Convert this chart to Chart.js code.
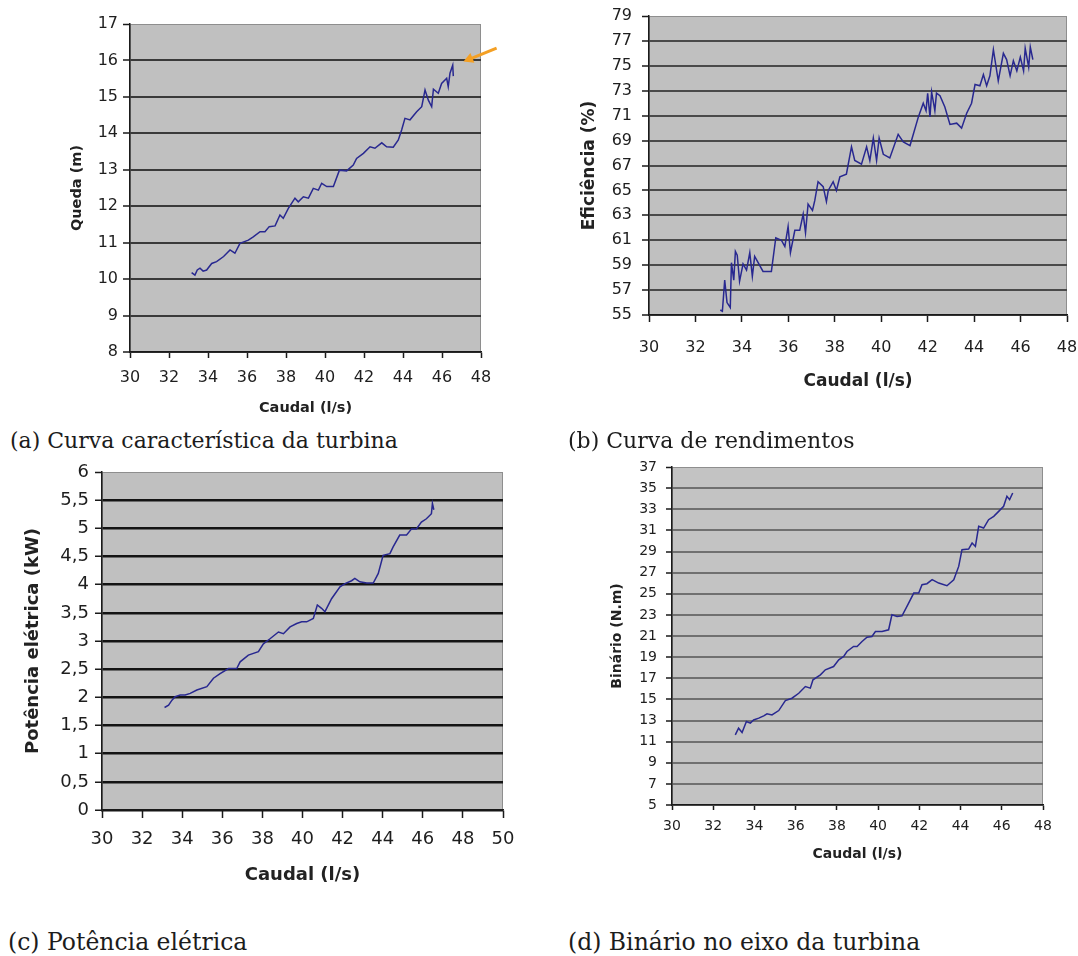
<!DOCTYPE html>
<html>
<head>
<meta charset="utf-8">
<title>Turbina - curvas</title>
<script src="https://cdn.jsdelivr.net/npm/chart.js@4.4.0/dist/chart.umd.min.js"></script>
<style>
	body { margin: 0; background: #fff; }
	#page { position: relative; width: 1078px; height: 956px; overflow: hidden; }
	#page canvas { position: absolute; }
	.caption {
		position: absolute;
		font-family: "DejaVu Serif", serif;
		font-size: 22px;
		line-height: 1;
		color: #1c1c1c;
		white-space: nowrap;
	}
	.caption.big { font-size: 23.5px; }
</style>
</head>
<body>
<div id="page">
	<canvas id="chartA"></canvas>
	<canvas id="chartB"></canvas>
	<canvas id="chartC"></canvas>
	<canvas id="chartD"></canvas>
	<div class="caption" style="left:10px; top:430px;">(a) Curva característica da turbina</div>
	<div class="caption" style="left:568px; top:430px;">(b) Curva de rendimentos</div>
	<div class="caption big" style="left:8px; top:931px;">(c) Potência elétrica</div>
	<div class="caption big" style="left:568px; top:931px;">(d) Binário no eixo da turbina</div>
</div>
<script>
// (a) Queda vs caudal
const caudalQueda = [33.16, 33.33, 33.45, 33.59, 33.75, 33.93, 34.19, 34.44, 34.8, 35.13, 35.38, 35.64, 36.07, 36.32, 36.67, 36.92, 37.14, 37.44, 37.69, 37.86, 38.12, 38.46, 38.63, 38.89, 39.15, 39.4, 39.66, 39.83, 40.09, 40.43, 40.74, 41.11, 41.45, 41.62, 41.97, 42.31, 42.56, 42.91, 43.16, 43.5, 43.76, 43.93, 44.1, 44.36, 44.7, 44.96, 45.13, 45.3, 45.47, 45.56, 45.81, 45.98, 46.24, 46.32, 46.41, 46.55, 46.58];
const queda = [10.18, 10.11, 10.25, 10.3, 10.22, 10.25, 10.43, 10.48, 10.62, 10.8, 10.71, 10.98, 11.07, 11.16, 11.3, 11.3, 11.44, 11.46, 11.76, 11.67, 11.94, 12.22, 12.12, 12.26, 12.22, 12.49, 12.44, 12.63, 12.54, 12.54, 12.99, 12.97, 13.13, 13.31, 13.45, 13.63, 13.59, 13.74, 13.63, 13.62, 13.82, 14.09, 14.41, 14.37, 14.59, 14.73, 15.19, 14.91, 14.73, 15.21, 15.1, 15.37, 15.51, 15.28, 15.65, 15.87, 15.57];

// (b) Eficiência vs caudal
const caudalEfic = [33.07, 33.16, 33.26, 33.36, 33.5, 33.55, 33.65, 33.72, 33.8, 33.9, 34.05, 34.2, 34.34, 34.45, 34.55, 34.7, 34.91, 35.27, 35.46, 35.7, 35.85, 35.99, 36.09, 36.28, 36.49, 36.64, 36.74, 36.85, 37.04, 37.14, 37.28, 37.5, 37.64, 37.72, 37.93, 38.07, 38.22, 38.5, 38.72, 38.86, 39.15, 39.37, 39.51, 39.66, 39.8, 39.91, 40.09, 40.37, 40.73, 40.95, 41.24, 41.6, 41.81, 41.93, 42.0, 42.1, 42.17, 42.31, 42.38, 42.53, 42.74, 42.96, 43.25, 43.46, 43.68, 43.89, 44.04, 44.25, 44.4, 44.54, 44.68, 44.83, 45.04, 45.26, 45.4, 45.55, 45.69, 45.84, 45.99, 46.13, 46.2, 46.35, 46.42, 46.53];
const eficiencia = [55.4, 55.3, 57.8, 56.0, 55.6, 59.2, 57.8, 60.1, 59.8, 57.7, 59.1, 58.6, 60.0, 58.1, 59.7, 59.2, 58.5, 58.5, 61.2, 61.0, 60.5, 62.1, 60.0, 61.8, 61.8, 63.1, 61.6, 63.9, 63.4, 64.2, 65.7, 65.3, 64.1, 65.0, 65.7, 65.0, 66.1, 66.3, 68.5, 67.4, 67.1, 68.5, 67.4, 69.2, 67.4, 69.2, 67.9, 67.6, 69.5, 68.9, 68.6, 70.9, 72.0, 71.4, 72.8, 70.9, 72.9, 71.4, 72.8, 72.6, 71.7, 70.3, 70.4, 70.0, 71.2, 72.0, 73.5, 73.4, 74.3, 73.4, 74.2, 76.3, 73.8, 76.0, 75.5, 74.2, 75.4, 74.6, 75.7, 74.6, 76.4, 74.9, 76.5, 75.5];

// (c) Potência elétrica vs caudal
const caudalPot = [33.12, 33.32, 33.49, 33.65, 33.9, 34.15, 34.4, 34.73, 35.23, 35.56, 35.89, 36.31, 36.72, 36.89, 37.3, 37.8, 38.05, 38.38, 38.8, 39.05, 39.38, 39.71, 39.96, 40.21, 40.54, 40.74, 40.95, 41.12, 41.45, 41.87, 42.12, 42.45, 42.61, 42.86, 43.2, 43.53, 43.78, 44.02, 44.36, 44.52, 44.85, 45.19, 45.44, 45.68, 45.93, 46.18, 46.43, 46.48, 46.55];
const potencia = [1.82, 1.86, 1.95, 2.01, 2.04, 2.04, 2.07, 2.13, 2.19, 2.34, 2.42, 2.51, 2.51, 2.63, 2.75, 2.81, 2.95, 3.04, 3.16, 3.13, 3.25, 3.31, 3.34, 3.34, 3.4, 3.64, 3.58, 3.52, 3.75, 3.96, 4.02, 4.07, 4.11, 4.05, 4.03, 4.03, 4.2, 4.52, 4.55, 4.67, 4.88, 4.88, 4.99, 4.99, 5.11, 5.17, 5.26, 5.44, 5.33];

// (d) Binário vs caudal
const caudalBin = [33.07, 33.23, 33.4, 33.61, 33.8, 33.96, 34.21, 34.45, 34.61, 34.85, 35.18, 35.5, 35.82, 36.15, 36.47, 36.71, 36.84, 37.2, 37.44, 37.84, 38.09, 38.33, 38.49, 38.81, 38.98, 39.22, 39.46, 39.7, 39.87, 40.19, 40.51, 40.67, 40.92, 41.16, 41.4, 41.73, 41.97, 42.13, 42.37, 42.62, 42.94, 43.34, 43.67, 43.91, 44.07, 44.39, 44.56, 44.72, 44.88, 45.12, 45.36, 45.61, 45.85, 46.09, 46.25, 46.38, 46.53];
const binario = [11.64, 12.27, 11.86, 12.9, 12.75, 13.05, 13.22, 13.44, 13.63, 13.53, 13.94, 14.89, 15.11, 15.58, 16.21, 16.06, 16.85, 17.32, 17.8, 18.11, 18.74, 19.06, 19.53, 20.01, 20.01, 20.48, 20.89, 20.95, 21.43, 21.43, 21.59, 23.01, 22.85, 22.91, 23.8, 25.06, 25.06, 25.85, 25.95, 26.33, 26.01, 25.76, 26.33, 27.59, 29.17, 29.23, 29.8, 29.48, 31.38, 31.22, 32.01, 32.33, 32.8, 33.28, 34.22, 33.91, 34.54];

// axis ranges [min, max, step]
const xRangeAB = [30, 48, 2];
const xRangeC = [30, 50, 2];
const yRangeA = [8, 17, 1];
const yRangeB = [55, 79, 2];
const yRangeC = [0, 6, 0.5];
const yRangeD = [5, 37, 2];

// orange arrow in (a), in data units: from -> to
const arrowFrom = [48.8, 16.34];
const arrowTo = [47.1, 15.97];

Chart.defaults.font.family = "DejaVu Sans";
Chart.defaults.color = "#1e1e1e";

// grey plot background + light frame
const plotBg = {
	id: "plotBg",
	beforeDraw(chart, args, opts) {
		const a = chart.chartArea;
		const ctx = chart.ctx;
		ctx.save();
		ctx.fillStyle = opts.color;
		ctx.fillRect(a.left, a.top, a.right - a.left, a.bottom - a.top);
		ctx.strokeStyle = "#8e8e8e";
		ctx.lineWidth = 1;
		ctx.strokeRect(a.left + 0.5, a.top + 0.5, a.right - a.left - 1, a.bottom - a.top - 1);
		ctx.restore();
	}
};

const arrowPlugin = {
	id: "arrow",
	afterDraw(chart, args, opts) {
		if (!opts.show) return;
		const xs = chart.scales.x, ys = chart.scales.y;
		const x1 = xs.getPixelForValue(arrowFrom[0]), y1 = ys.getPixelForValue(arrowFrom[1]);
		const x2 = xs.getPixelForValue(arrowTo[0]), y2 = ys.getPixelForValue(arrowTo[1]);
		const ang = Math.atan2(y2 - y1, x2 - x1);
		const ctx = chart.ctx;
		ctx.save();
		ctx.strokeStyle = "#f4a024";
		ctx.fillStyle = "#f4a024";
		ctx.lineWidth = 3;
		ctx.beginPath();
		ctx.moveTo(x1, y1);
		ctx.lineTo(x2 - 8 * Math.cos(ang), y2 - 8 * Math.sin(ang));
		ctx.stroke();
		ctx.beginPath();
		ctx.moveTo(x2, y2);
		ctx.lineTo(x2 - 11 * Math.cos(ang - 0.5), y2 - 11 * Math.sin(ang - 0.5));
		ctx.lineTo(x2 - 11 * Math.cos(ang + 0.5), y2 - 11 * Math.sin(ang + 0.5));
		ctx.closePath();
		ctx.fill();
		ctx.restore();
	}
};

function makePanel(id, p) {
	const canvas = document.getElementById(id);
	const tLh = p.titleSize * 1.2;
	const w = p.box[2];
	const h = Math.round(p.xTitleY + tLh / 2 - p.box[1]);
	canvas.width = w;
	canvas.height = h;
	canvas.style.left = p.box[0] + "px";
	canvas.style.top = p.box[1] + "px";
	canvas.style.width = w + "px";
	canvas.style.height = h + "px";

	const yW = p.plot[0] - p.box[0];
	const xH = p.box[1] + h - p.plot[3];
	const yMax = p.yRange[1];
	const comma = (v) => String(v).replace(".", ",");

	return new Chart(canvas.getContext("2d"), {
		type: "scatter",
		data: {
			datasets: [
				{
					data: p.xs.map((x, i) => ({ x: x, y: p.ys[i] })),
					showLine: true,
					borderColor: "#282890",
					borderWidth: 1.5,
					pointRadius: 0,
					tension: 0,
				},
			],
		},
		options: {
			responsive: false,
			animation: false,
			devicePixelRatio: 1,
			events: [],
			layout: {
				padding: {
					left: 0,
					bottom: 0,
					top: p.plot[1] - p.box[1],
					right: p.box[0] + w - p.plot[2],
				},
			},
			plugins: {
				legend: { display: false },
				tooltip: { enabled: false },
				plotBg: { color: p.bg },
				arrow: { show: !!p.arrow },
			},
			scales: {
				x: {
					type: "linear",
					min: p.xRange[0],
					max: p.xRange[1],
					afterFit(scale) {
						scale.height = xH;
						scale.paddingLeft = 0;
						scale.paddingRight = 0;
					},
					ticks: {
						stepSize: p.xRange[2],
						font: { size: p.tickSize },
						padding: p.xTick[1],
						maxRotation: 0,
						autoSkip: false,
					},
					grid: {
						drawOnChartArea: false,
						tickLength: p.xTick[0],
						tickColor: "#1a1a1a",
						tickWidth: 1.5,
					},
					border: { color: "#1a1a1a", width: 1.5 },
					title: {
						display: true,
						text: "Caudal (l/s)",
						font: { size: p.titleSize, weight: "bold" },
						color: "#222",
						padding: { top: 0, bottom: 0 },
					},
				},
				y: {
					type: "linear",
					min: p.yRange[0],
					max: yMax,
					afterFit(scale) {
						scale.width = yW;
						scale.paddingTop = 0;
						scale.paddingBottom = 0;
					},
					ticks: {
						stepSize: p.yRange[2],
						font: { size: p.tickSize },
						padding: p.yTick[1],
						autoSkip: false,
						callback: p.commaTicks ? comma : (v) => v,
					},
					grid: {
						color: (c) => (c.tick && c.tick.value === yMax ? "#8e8e8e" : p.gridColor),
						lineWidth: (c) => (c.tick && c.tick.value === yMax ? 1 : p.gridWidth),
						tickLength: p.yTick[0],
						tickColor: "#1a1a1a",
						tickWidth: 1.5,
					},
					border: { color: "#1a1a1a", width: 1.5 },
					title: {
						display: true,
						text: p.yTitle,
						font: { size: p.titleSize, weight: "bold" },
						color: "#222",
						padding: { top: p.yTitleX - p.box[0] - tLh / 2, bottom: 0 },
					},
				},
			},
		},
		plugins: [plotBg, arrowPlugin],
	});
}

document.addEventListener("DOMContentLoaded", function () {
	makePanel("chartA", {
		box: [0, 0, 540],
		plot: [130, 24, 481, 352],
		xs: caudalQueda, ys: queda,
		xRange: xRangeAB, yRange: yRangeA,
		yTitle: "Queda (m)", yTitleX: 77, xTitleY: 408,
		tickSize: 16, titleSize: 14.5,
		yTick: [7, 5], xTick: [6, 10],
		gridColor: "#3a3a3a", gridWidth: 2, bg: "#c0c0c0",
		arrow: true,
	});

	makePanel("chartB", {
		box: [545, 0, 533],
		plot: [649, 16, 1067, 315],
		xs: caudalEfic, ys: eficiencia,
		xRange: xRangeAB, yRange: yRangeB,
		yTitle: "Eficiência (%)", yTitleX: 590, xTitleY: 382,
		tickSize: 16, titleSize: 17,
		yTick: [7, 10], xTick: [7, 16],
		gridColor: "#4a4a4a", gridWidth: 2, bg: "#c0c0c0",
	});

	makePanel("chartC", {
		box: [0, 456, 540],
		plot: [102, 472, 503, 810],
		xs: caudalPot, ys: potencia,
		xRange: xRangeC, yRange: yRangeC,
		yTitle: "Potência elétrica (kW)", yTitleX: 33, xTitleY: 875,
		tickSize: 18, titleSize: 18,
		yTick: [7, 6], xTick: [8, 11],
		gridColor: "#141414", gridWidth: 2.5, bg: "#c0c0c0",
		commaTicks: true,
	});

	makePanel("chartD", {
		box: [545, 450, 533],
		plot: [672, 467, 1043, 805],
		xs: caudalBin, ys: binario,
		xRange: xRangeAB, yRange: yRangeD,
		yTitle: "Binário (N.m)", yTitleX: 617, xTitleY: 855,
		tickSize: 14, titleSize: 14,
		yTick: [6, 9], xTick: [5, 8],
		gridColor: "#707070", gridWidth: 2, bg: "#c3c3c3",
	});
});
</script>
</body>
</html>
